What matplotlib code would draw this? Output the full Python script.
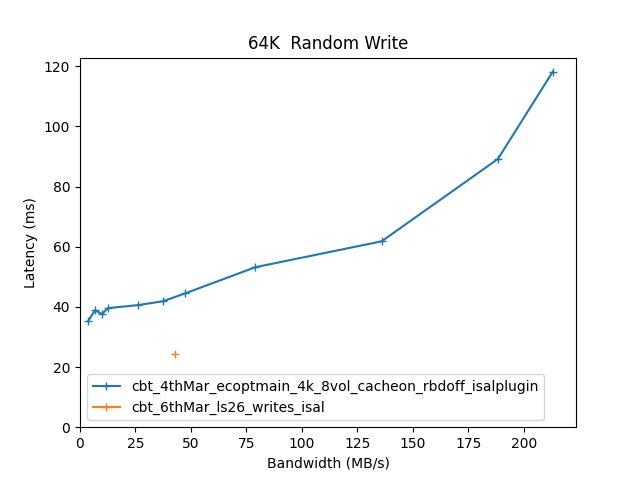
import matplotlib
matplotlib.use("Agg")
import matplotlib.pyplot as plt

bw1 = [3.6, 6.8, 9.9, 12.6, 26.2, 37.5, 47.4, 79.0, 135.9, 188.3, 213.0]
lat1 = [35.2, 38.9, 37.6, 39.6, 40.6, 41.9, 44.5, 53.2, 61.8, 89.2, 118.2]
bw2 = [42.9]
lat2 = [24.3]

fig, ax = plt.subplots(figsize=(6.4, 4.8), dpi=100)
ax.plot(bw1, lat1, marker='+', label='cbt_4thMar_ecoptmain_4k_8vol_cacheon_rbdoff_isalplugin')
ax.plot(bw2, lat2, marker='+', label='cbt_6thMar_ls26_writes_isal')
ax.set_xlim(left=0)
ax.set_ylim(bottom=0)
ax.set_title('64K  Random Write')
ax.set_xlabel('Bandwidth (MB/s)')
ax.set_ylabel('Latency (ms)')
ax.legend(loc='lower left')
fig.savefig('out.png')
